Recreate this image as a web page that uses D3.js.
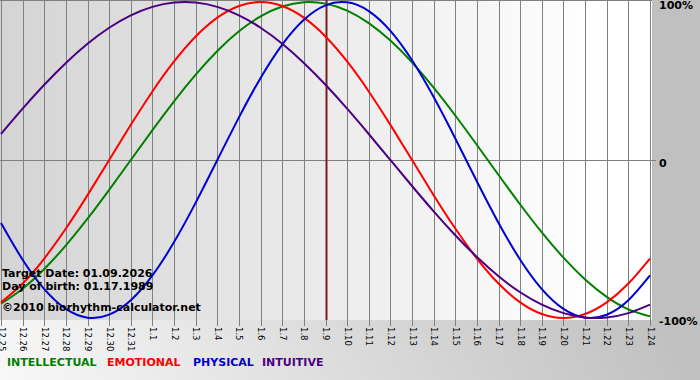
<!DOCTYPE html>
<html>
<head>
<meta charset="utf-8">
<script src="https://cdn.jsdelivr.net/npm/d3@7"></script>
<style>
  html, body { margin: 0; padding: 0; background: #fff; }
  svg { display: block; font-family: "DejaVu Sans", Verdana, sans-serif; }
</style>
</head>
<body>
<svg id="chart" width="700" height="380"></svg>
<script>
const dates = ["12.25","12.26","12.27","12.28","12.29","12.30","12.31",
  "1.1","1.2","1.3","1.4","1.5","1.6","1.7","1.8","1.9","1.10","1.11","1.12",
  "1.13","1.14","1.15","1.16","1.17","1.18","1.19","1.20","1.21","1.22","1.23","1.24"];

const intellectual = [-0.9096,-0.8146,-0.6901,-0.5406,-0.3717,-0.1893,0,0.1893,0.3717,0.5406,
  0.6901,0.8146,0.9096,0.9718,0.9989,0.9898,0.9450,0.8660,0.7557,0.6182,0.4582,0.2817,0.0951,
  -0.0951,-0.2817,-0.4582,-0.6182,-0.7557,-0.8660,-0.9450,-0.9898];
const emotional = [-0.9010,-0.7818,-0.6235,-0.4339,-0.2225,0,0.2225,0.4339,0.6235,0.7818,
  0.9010,0.9749,1,0.9749,0.9010,0.7818,0.6235,0.4339,0.2225,0,-0.2225,-0.4339,-0.6235,
  -0.7818,-0.9010,-0.9749,-1,-0.9749,-0.9010,-0.7818,-0.6235];
const physical = [-0.3984,-0.6311,-0.8170,-0.9423,-0.9977,-0.9791,-0.8879,-0.7308,-0.5196,-0.2698,
  0,0.2698,0.5196,0.7308,0.8879,0.9791,0.9977,0.9423,0.8170,0.6311,0.3984,0.1362,-0.1362,
  -0.3984,-0.6311,-0.8170,-0.9423,-0.9977,-0.9791,-0.8879,-0.7308];
const intuitive = [0.1646,0.3247,0.4759,0.6142,0.7357,0.8372,0.9158,0.9694,0.9966,0.9966,
  0.9694,0.9158,0.8372,0.7357,0.6142,0.4759,0.3247,0.1646,0,-0.1646,-0.3247,-0.4759,-0.6142,
  -0.7357,-0.8372,-0.9158,-0.9694,-0.9966,-0.9966,-0.9694,-0.9158];

const seriesNames = ["INTELLECTUAL","EMOTIONAL","PHYSICAL","INTUITIVE"];
const yTicks = [1, 0, -1];
const yTickLabels = ["100%", "0", "-100%"];
const targetDate = "1.9";
const infoLines = ["Target Date: 01.09.2026", "Day of birth: 01.17.1989", "\u00A92010 biorhythm-calculator.net"];

const colors = {INTELLECTUAL: "#008000", EMOTIONAL: "#ff0000", PHYSICAL: "#0000d0", INTUITIVE: "#4b0082"};
const seriesData = {INTELLECTUAL: intellectual, EMOTIONAL: emotional, PHYSICAL: physical, INTUITIVE: intuitive};

const W = 700, H = 380;
const plotW = 652, plotH = 320;
const svg = d3.select("#chart");
const defs = svg.append("defs");

const bgGrad = defs.append("linearGradient").attr("id","bgGrad")
  .attr("gradientUnits","userSpaceOnUse")
  .attr("x1",0).attr("y1",380).attr("x2",560).attr("y2",100);
bgGrad.append("stop").attr("offset",0).attr("stop-color","#f8f8f8");
bgGrad.append("stop").attr("offset",1).attr("stop-color","#c0c0c0");

const plotGrad = defs.append("linearGradient").attr("id","plotGrad")
  .attr("x1",0).attr("y1",0).attr("x2",1).attr("y2",0);
plotGrad.append("stop").attr("offset",0).attr("stop-color","#d4d4d4");
plotGrad.append("stop").attr("offset",0.92).attr("stop-color","#ffffff");
plotGrad.append("stop").attr("offset",1).attr("stop-color","#ffffff");

defs.append("clipPath").attr("id","plotClip").append("rect")
  .attr("x",0).attr("y",0).attr("width",plotW).attr("height",plotH);

svg.append("rect").attr("width",W).attr("height",H).attr("fill","url(#bgGrad)");
svg.append("rect").attr("width",plotW).attr("height",plotH).attr("fill","url(#plotGrad)");

const x = d3.scalePoint().domain(dates).range([1, 650]);
const y = d3.scaleLinear().domain([-1, 1]).range([318, 2]);

// vertical grid lines
svg.append("g").selectAll("line").data(dates).join("line")
  .attr("x1", d => Math.round(x(d)) + 0.5).attr("x2", d => Math.round(x(d)) + 0.5)
  .attr("y1", 0).attr("y2", plotH + 6)
  .attr("stroke", "#808080").attr("stroke-width", 1);

// top border & zero line
svg.append("line").attr("x1",0).attr("x2",plotW).attr("y1",0.5).attr("y2",0.5)
  .attr("stroke","#808080");
svg.append("line").attr("x1",0).attr("x2",plotW + 4)
  .attr("y1", Math.round(y(0)) + 0.5).attr("y2", Math.round(y(0)) + 0.5)
  .attr("stroke","#808080");

// target date line
svg.append("line")
  .attr("x1", Math.round(x(targetDate)) + 0.5).attr("x2", Math.round(x(targetDate)) + 0.5)
  .attr("y1", 0).attr("y2", plotH)
  .attr("stroke", "#7a1e1e").attr("stroke-width", 2);

// curves
const line = d3.line().x((d, i) => x(dates[i])).y(d => y(d)).curve(d3.curveNatural);
const curves = svg.append("g").attr("clip-path","url(#plotClip)");
seriesNames.forEach(name => {
  curves.append("path").datum(seriesData[name])
    .attr("d", line).attr("fill","none")
    .attr("stroke", colors[name]).attr("stroke-width", 2);
});

// bottom axis (dates)
const xAxis = svg.append("g").attr("transform", `translate(0,${plotH})`)
  .call(d3.axisBottom(x).tickSize(0));
xAxis.select(".domain").remove();
xAxis.selectAll("text")
  .attr("transform","rotate(90)")
  .attr("x", 7).attr("y", 0).attr("dy","0.35em")
  .style("text-anchor","start")
  .style("font-size","8.5px")
  .style("font-family","'DejaVu Sans', Verdana, sans-serif")
  .attr("fill","#000");

// right axis (percent)
const yAxis = svg.append("g").attr("transform","translate(659,0)")
  .call(d3.axisRight(y).tickValues(yTicks).tickFormat((d, i) => yTickLabels[i]).tickSize(0).tickPadding(0));
yAxis.select(".domain").remove();
yAxis.selectAll("text")
  .attr("dy","0.62em")
  .style("font-size","11px").style("font-weight","bold")
  .style("font-family","'DejaVu Sans', Verdana, sans-serif")
  .attr("fill","#000");

// info text
const infoY = [277, 290, 311];
svg.append("g").selectAll("text").data(infoLines).join("text")
  .attr("x", 2).attr("y", (d, i) => infoY[i])
  .style("font-size","11px").style("font-weight","bold")
  .attr("fill","#000").text(d => d);

// legend
const legendX = [7, 107, 193, 262];
svg.append("g").selectAll("text").data(seriesNames).join("text")
  .attr("x", (d, i) => legendX[i]).attr("y", 366)
  .style("font-size","11px").style("font-weight","bold")
  .attr("fill", d => colors[d]).text(d => d);
</script>
</body>
</html>
